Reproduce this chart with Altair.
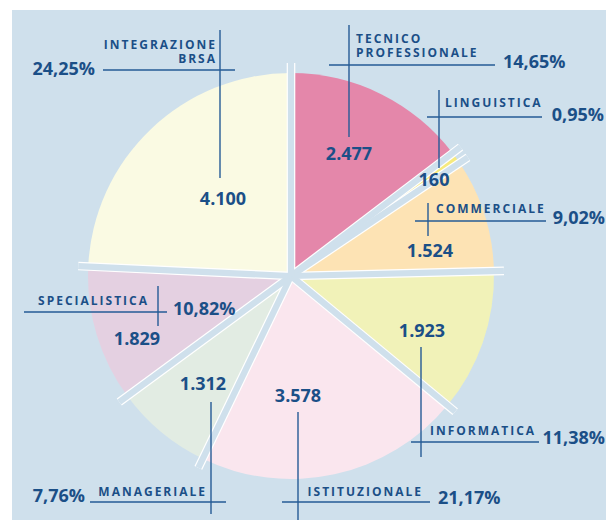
import altair as alt
import pandas as pd

# ---------------- data ----------------
categories = ["TECNICO PROFESSIONALE", "LINGUISTICA", "COMMERCIALE", "INFORMATICA",
              "ISTITUZIONALE", "MANAGERIALE", "SPECIALISTICA", "INTEGRAZIONE BRSA"]
values = [2477, 160, 1524, 1923, 3578, 1312, 1829, 4100]
percent_labels = ["14,65%", "0,95%", "9,02%", "11,38%", "21,17%", "7,76%", "10,82%", "24,25%"]
name_lines = [["TECNICO", "PROFESSIONALE"], ["LINGUISTICA"], ["COMMERCIALE"], ["INFORMATICA"],
              ["ISTITUZIONALE"], ["MANAGERIALE"], ["SPECIALISTICA"], ["INTEGRAZIONE", "BRSA"]]
colors = ["#e487aa", "#f6ea7e", "#fde3b4", "#f1f2b8", "#fae6ee", "#e2ece3", "#e4d0e1", "#fafae3"]

# ---------------- style / layout ----------------
BG = "#cfe0ec"
TXT = "#1b4f87"
LINE = "#255b96"
FONT = "Open Sans"
W, H = 598, 512
OFF = 8
CX, CY, R = 291 - OFF, 276 - OFF, 203
GAP_LEN = R + 10

# annotation layout in page pixels (image coordinates)
layout = [
    dict(names=[(356, 39), (356, 53)], nalign="left", pct=(503, 63, "left"), val=(349, 155), v=(349, 25, 137), h=(65, 329, 495)),
    dict(names=[(445, 103)], nalign="left", pct=(604, 116, "right"), val=(434, 181), v=(439, 90, 168), h=(117, 427, 542)),
    dict(names=[(436, 209)], nalign="left", pct=(605, 219, "right"), val=(430, 252), v=(428, 203, 236), h=(221, 415, 546)),
    dict(names=[(430, 431)], nalign="left", pct=(605, 439, "right"), val=(422, 332), v=(421, 347, 457), h=(442, 411, 539)),
    dict(names=[(421, 492)], nalign="right", pct=(438, 499, "left"), val=(298, 397), v=(298, 412, 530), h=(502, 282, 430)),
    dict(names=[(205, 492)], nalign="right", pct=(85, 497, "right"), val=(203, 385), v=(211, 402, 514), h=(502, 90, 226)),
    dict(names=[(147, 301)], nalign="right", pct=(173, 310, "left"), val=(137, 340), v=(158, 286, 326), h=(312, 24, 167)),
    dict(names=[(215, 44.5), (215, 58.5)], nalign="right", pct=(95, 70, "right"), val=(223, 200), v=(220, 30, 178), h=(70, 103, 235)),
]

def spaced(s):
    return "\u2009".join(list(s))

def fmt_it(v):
    return f"{v:,}".replace(",", ".")

pie_df = pd.DataFrame({"cat": categories, "value": values, "idx": list(range(len(values)))})

name_rows, pct_rows, val_rows, line_rows = [], [], [], []
for i, lay in enumerate(layout):
    for (x, y), txt in zip(lay["names"], name_lines[i]):
        name_rows.append(dict(x=x - OFF, y=y - OFF, t=spaced(txt), a=lay["nalign"]))
    px, py, pa = lay["pct"]
    pct_rows.append(dict(x=px - OFF, y=py - OFF, t=percent_labels[i], a=pa))
    vx, vy = lay["val"]
    val_rows.append(dict(x=vx - OFF, y=vy - OFF, t=fmt_it(values[i]), a="center"))
    lx, ly1, ly2 = lay["v"]
    line_rows.append(dict(x=lx - OFF, y=ly1 - OFF, x2=lx - OFF, y2=ly2 - OFF))
    hy, hx1, hx2 = lay["h"]
    line_rows.append(dict(x=hx1 - OFF, y=hy - OFF, x2=hx2 - OFF, y2=hy - OFF))

names_df = pd.DataFrame(name_rows)
pct_df = pd.DataFrame(pct_rows)
val_df = pd.DataFrame(val_rows)
lines_df = pd.DataFrame(line_rows)

# ---------------- layers ----------------
bg = alt.Chart(pd.DataFrame({"k": [0]})).mark_rect(color=BG).encode(
    x=alt.value(4), x2=alt.value(W), y=alt.value(2), y2=alt.value(H))

pie = alt.Chart(pie_df).mark_arc(outerRadius=R, innerRadius=0, stroke=None).encode(
    theta=alt.Theta("value:Q", stack=True),
    color=alt.Color("cat:N", scale=alt.Scale(domain=categories, range=colors), legend=None),
    order=alt.Order("idx:Q"),
    x=alt.value(CX), y=alt.value(CY),
)

gaps_base = alt.Chart(pie_df).transform_window(
    cum="sum(value)", frame=[None, 0], sort=[alt.SortField("idx")]
).transform_joinaggregate(total="sum(value)").transform_calculate(
    ang="2*PI*datum.cum/datum.total",
    gx1=f"{CX}", gy1=f"{CY}",
    gx2=f"{CX}+{GAP_LEN}*sin(datum.ang)",
    gy2=f"{CY}-{GAP_LEN}*cos(datum.ang)",
)
gap_enc = dict(
    x=alt.X("gx1:Q", scale=None), y=alt.Y("gy1:Q", scale=None),
    x2="gx2:Q", y2="gy2:Q",
)
gaps_white = gaps_base.mark_rule(color="white", strokeWidth=8.6).encode(**gap_enc)
gaps_blue = gaps_base.mark_rule(color=BG, strokeWidth=6.2).encode(**gap_enc)

leaders = alt.Chart(lines_df).mark_rule(color=LINE, strokeWidth=1.4).encode(
    x=alt.X("x:Q", scale=None), y=alt.Y("y:Q", scale=None), x2="x2:Q", y2="y2:Q")

def text_layers(df, size, weight):
    out = []
    for al in ["left", "right", "center"]:
        sub = df[df["a"] == al]
        if len(sub) == 0:
            continue
        out.append(alt.Chart(sub).mark_text(
            font=FONT, fontSize=size, fontWeight=weight, color=TXT, align=al, baseline="middle"
        ).encode(x=alt.X("x:Q", scale=None), y=alt.Y("y:Q", scale=None), text="t:N"))
    return out

layers = [bg, pie, gaps_white, gaps_blue, leaders]
layers += text_layers(names_df, 12, "bold")
layers += text_layers(pct_df, 18, "bold")
layers += text_layers(val_df, 18, "bold")

chart = alt.layer(*layers).properties(
    width=W, height=H, padding=0, autosize=alt.AutoSizeParams(type="none"),
    background="white"
).configure_view(stroke=None)

chart.save("out.html", embed_options={"renderer": "svg", "actions": False})
